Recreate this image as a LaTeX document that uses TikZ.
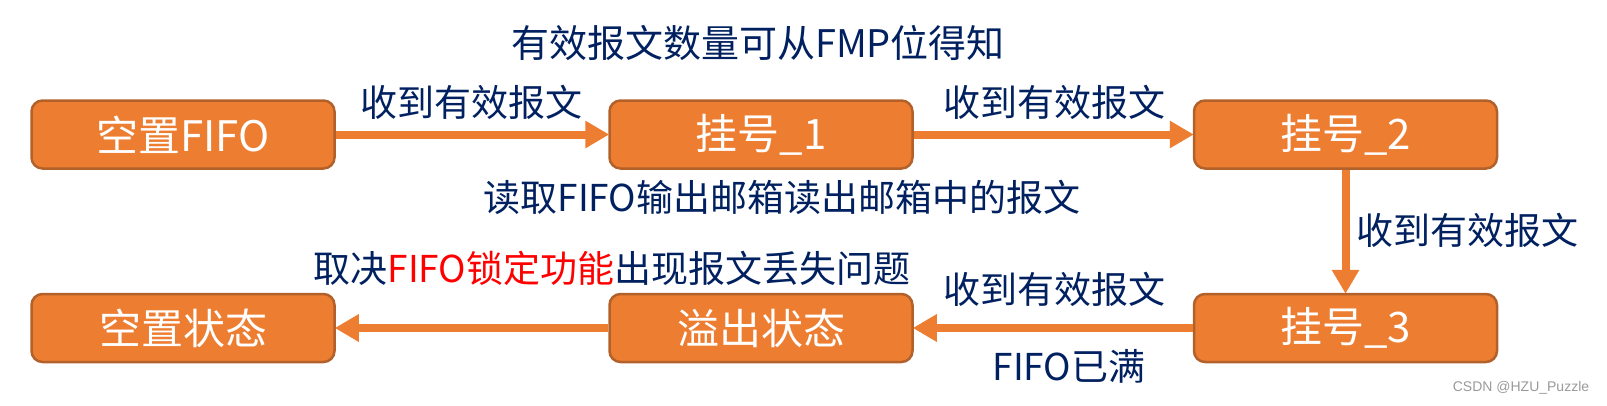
\documentclass[tikz,border=0pt]{standalone}
\usepackage{fontspec}
\setmainfont{Noto Sans CJK SC}
\newfontfamily\wmfont{Liberation Sans}
\usetikzlibrary{arrows.meta}
\definecolor{boxfill}{HTML}{ED7D31}
\definecolor{boxline}{HTML}{B2612A}
\definecolor{navy}{HTML}{002060}
\definecolor{wmgray}{HTML}{9A9A9A}
\tikzset{
  statebox/.style={draw=boxline, line width=2.5pt, fill=boxfill, rounded corners=11pt,
    minimum width=303pt, minimum height=68pt, inner sep=0pt, text=white,
    font=\fontsize{42pt}{46pt}\selectfont},
  lbl/.style={text=navy, inner sep=0pt, font=\fontsize{37pt}{42pt}\selectfont},
  flow/.style={draw=boxfill, line width=8pt, -{Triangle[length=24pt,width=26pt]}, shorten >=-1pt}
}
\begin{document}
\begin{tikzpicture}[x=1pt,y=-1pt]
\useasboundingbox (0,0) rectangle (1607,405);
\node[statebox] (s1) at (183,134.5) {空置FIFO};
\node[statebox] (s2) at (761,134.5) {挂号\_1};
\node[statebox] (s3) at (1345.5,134.5) {挂号\_2};
\node[statebox] (s4) at (1345.5,328) {挂号\_3};
\node[statebox] (s5) at (761,328) {溢出状态};
\node[statebox] (s6) at (183,328) {空置状态};
\draw[flow] (s1) -- (s2);
\draw[flow] (s2) -- (s3);
\draw[flow] (s3) -- (s4);
\draw[flow] (s4) -- (s5);
\draw[flow] (s5) -- (s6);
\node[lbl, font=\fontsize{38pt}{42pt}\selectfont] (t0) at (758,43) {有效报文数量可从FMP位得知};
\node[lbl] (t1) at (471,102) {收到有效报文};
\node[lbl] (t2) at (1054,102) {收到有效报文};
\node[lbl] (t3) at (782,197) {读取FIFO输出邮箱读出邮箱中的报文};
\node[lbl] (t4) at (1467,230) {收到有效报文};
\node[lbl] (t5) at (612,268) {取决{\color{red}FIFO锁定功能}出现报文丢失问题};
\node[lbl] (t6) at (1054,289) {收到有效报文};
\node[lbl] (t7) at (1069,366) {FIFO已满};
\node[text=wmgray, inner sep=0pt, font=\wmfont\fontsize{14pt}{16pt}\selectfont] (wm) at (1521,388) {CSDN @HZU\_Puzzle};
\end{tikzpicture}
\end{document}
